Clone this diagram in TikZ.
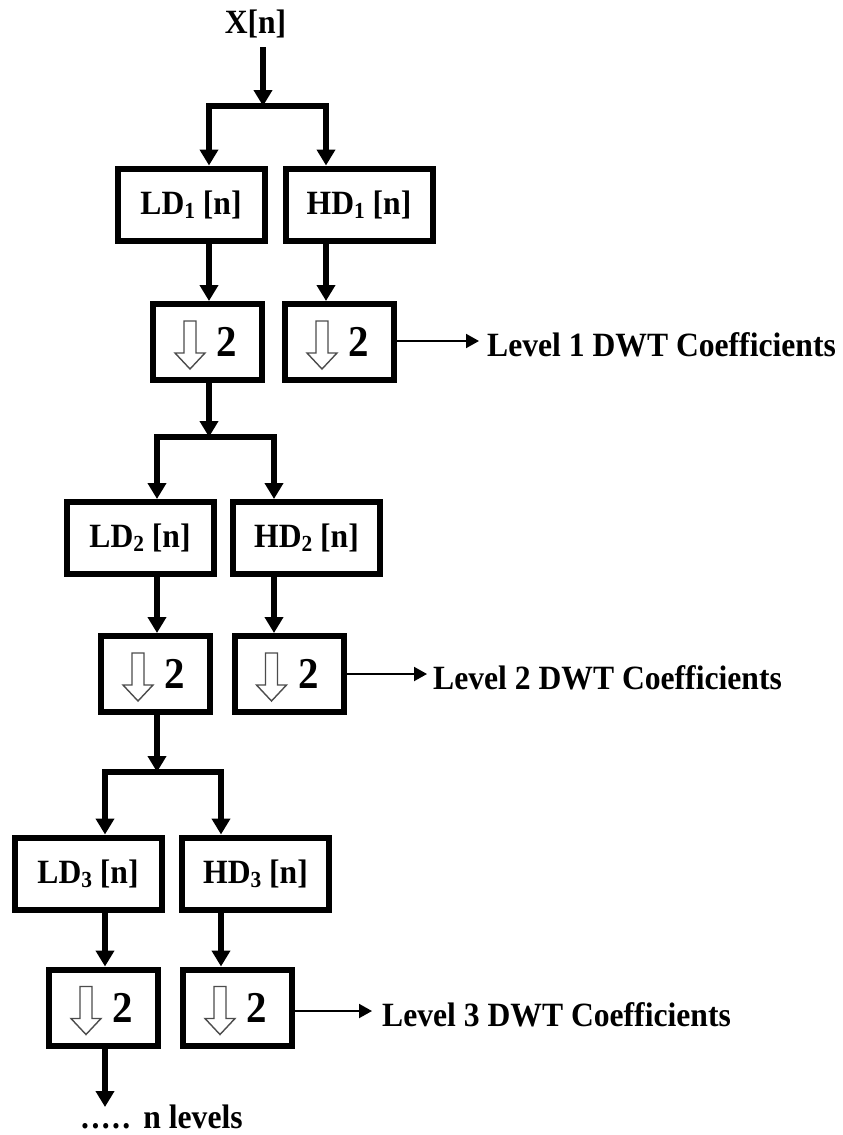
\documentclass[tikz,border=0pt]{standalone}
\usepackage{fontspec}
\setmainfont{Liberation Serif}
\usetikzlibrary{arrows.meta}
% slightly condensed bold text
\newcommand\sqz[1]{\scalebox{0.93}[1]{#1}}
\newcommand\lvsub[1]{\raisebox{-4pt}{\fontsize{23}{23}\selectfont #1}}
\newcommand\sdot{.\hspace{2.6pt}}

\begin{document}
\begin{tikzpicture}[x=1pt,y=-1pt,
  filt/.style={draw, line width=6pt, minimum width=147pt, minimum height=72pt,
    inner sep=0pt, font=\fontsize{34}{38}\selectfont\bfseries},
  dsbox/.style={draw, line width=6pt, minimum width=109pt, minimum height=76pt,
    inner sep=0pt, font=\fontsize{44}{48}\selectfont\bfseries},
  hollow/.style={line width=1.4pt, draw=black!70, line join=miter},
  flow/.style={line width=6pt, line join=miter,
    -{Triangle[length=16pt,width=18pt]}},
  split/.style={line width=6pt, line join=miter,
    {Triangle[length=16pt,width=18pt]}-{Triangle[length=16pt,width=18pt]}},
  outarr/.style={line width=2pt, -{Triangle[length=13pt,width=14pt]}},
  lbl/.style={anchor=base west, inner sep=0pt,
    font=\fontsize{34}{40}\selectfont\bfseries}]

\fill[white] (0,0) rectangle (843,1135);
\useasboundingbox (0,0) rectangle (843,1135);

% input signal
\node[anchor=base, inner sep=0pt, font=\fontsize{34}{40}\selectfont\bfseries]
  (xin) at (255.5,33) {\sqz{X[n]}};
\coordinate (t1) at (263,47);
\coordinate (b1) at (263,106);

% ---- level 1
\node[filt] (ld1) at (191,204.5) {\sqz{LD\lvsub{1} [n]}};
\node[filt] (hd1) at (359,204.5) {\sqz{HD\lvsub{1} [n]}};
\node[dsbox] (dl1) at (207.5,342) {\hspace*{39pt}\sqz{2}};
\node[dsbox] (dh1) at (339.5,342) {\hspace*{39pt}\sqz{2}};
\coordinate (c1l) at (209,0);
\coordinate (c1r) at (326,0);
\coordinate (e1) at (479,341);
\node[lbl] (l1) at (487,356) {\sqz{Level 1 DWT Coefficients}};

\draw[flow] (t1) -- (b1);
\draw[split] (ld1.north -| c1l) -- (c1l |- b1) -- (c1r |- b1) -- (hd1.north -| c1r);
\draw[flow] (ld1.south -| c1l) -- (dl1.north -| c1l);
\draw[flow] (hd1.south -| c1r) -- (dh1.north -| c1r);
\draw[outarr] (dh1.east |- e1) -- (e1);

% ---- level 2
\coordinate (b2) at (209,437);
\node[filt] (ld2) at (140,538) {\sqz{LD\lvsub{2} [n]}};
\node[filt] (hd2) at (306.5,538) {\sqz{HD\lvsub{2} [n]}};
\node[dsbox] (dl2) at (155.5,674) {\hspace*{39pt}\sqz{2}};
\node[dsbox] (dh2) at (289,674) {\hspace*{39pt}\sqz{2}};
\coordinate (c2l) at (157,0);
\coordinate (c2r) at (274,0);
\coordinate (e2) at (427,674);
\node[lbl] (l2) at (433,689) {\sqz{Level 2 DWT Coefficients}};

\draw[flow] (dl1.south -| b2) -- (b2);
\draw[split] (ld2.north -| c2l) -- (c2l |- b2) -- (c2r |- b2) -- (hd2.north -| c2r);
\draw[flow] (ld2.south -| c2l) -- (dl2.north -| c2l);
\draw[flow] (hd2.south -| c2r) -- (dh2.north -| c2r);
\draw[outarr] (dh2.east |- e2) -- (e2);

% ---- level 3
\coordinate (b3) at (157,772);
\node[filt] (ld3) at (88,873.5) {\sqz{LD\lvsub{3} [n]}};
\node[filt] (hd3) at (255.5,873.5) {\sqz{HD\lvsub{3} [n]}};
\node[dsbox] (dl3) at (103.5,1007.5) {\hspace*{39pt}\sqz{2}};
\node[dsbox] (dh3) at (237.5,1007.5) {\hspace*{39pt}\sqz{2}};
\coordinate (c3l) at (105,0);
\coordinate (c3r) at (221,0);
\coordinate (e3) at (372,1011);
\node[lbl] (l3) at (382,1026) {\sqz{Level 3 DWT Coefficients}};

\draw[flow] (dl2.south -| b3) -- (b3);
\draw[split] (ld3.north -| c3l) -- (c3l |- b3) -- (c3r |- b3) -- (hd3.north -| c3r);
\draw[flow] (ld3.south -| c3l) -- (dl3.north -| c3l);
\draw[flow] (hd3.south -| c3r) -- (dh3.north -| c3r);
\draw[outarr] (dh3.east |- e3) -- (e3);

% hollow down-arrow (downsampling symbol) inside every decimator box
\foreach \b in {dl1,dh1,dl2,dh2,dl3,dh3}
  \draw[hollow, shift={(\b.center)}]
    (-23.5,-21) -- (-11.5,-21) -- (-11.5,11) -- (-2.5,11) -- (-17.5,27)
    -- (-32.5,11) -- (-23.5,11) -- cycle;

% remaining levels
\coordinate (e4) at (105,1107);
\draw[flow] (dl3.south -| e4) -- (e4);
\node[lbl] (more) at (81,1128) {\sqz{\sdot\sdot\sdot\sdot.\hspace{14pt}n levels}};
\end{tikzpicture}
\end{document}
